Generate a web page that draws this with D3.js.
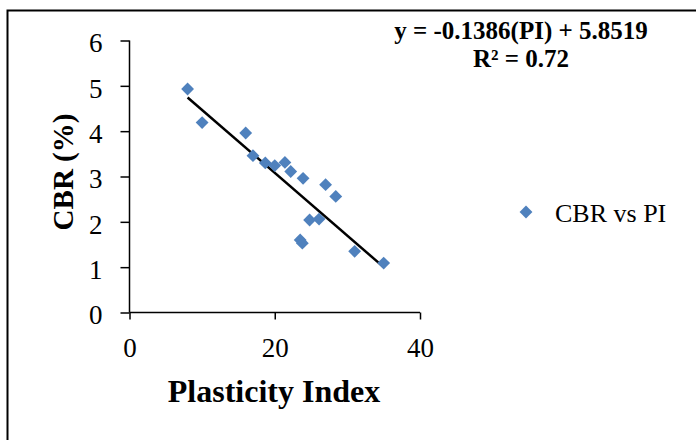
<!DOCTYPE html>
<html>
<head>
<meta charset="utf-8">
<script src="https://cdn.jsdelivr.net/npm/d3@7"></script>
<style>
  body { margin: 0; background: #fff; }
  svg { display: block; font-family: "Liberation Serif", "Times New Roman", serif; }
</style>
</head>
<body>
<div id="chart"></div>
<script>
// data
var pi  = [8, 10, 16, 17, 18.7, 20, 21.4, 22.2, 23.9, 27, 28.4, 24.8, 26.1, 23.5, 23.8, 31, 35];
var cbr = [4.93, 4.19, 3.96, 3.46, 3.30, 3.24, 3.31, 3.11, 2.96, 2.82, 2.56, 2.04, 2.06, 1.60, 1.53, 1.35, 1.09];
var xTicks = [0, 20, 40];
var yTicks = [0, 1, 2, 3, 4, 5, 6];
var slope = -0.1386, intercept = 5.8519;
var trendX = [8, 35];

var width = 696, height = 440;
var svg = d3.select("#chart").append("svg")
	.attr("width", width)
	.attr("height", height);

// outer frame (runs off right and bottom edges)
svg.append("rect")
	.attr("x", 7.5).attr("y", 10.5)
	.attr("width", 700).attr("height", 440)
	.attr("fill", "none")
	.attr("stroke", "#000")
	.attr("stroke-width", 2);

var x = d3.scaleLinear().domain([0, 40]).range([129.5, 420]);
var y = d3.scaleLinear().domain([0, 6]).range([312.5, 40.5]);

var xAxis = svg.append("g")
	.attr("transform", "translate(0," + y(0) + ")")
	.call(d3.axisBottom(x).tickValues(xTicks).tickFormat(d3.format("d")).tickSize(7).tickPadding(18));
var yAxis = svg.append("g")
	.attr("transform", "translate(" + x(0) + ",0)")
	.call(d3.axisLeft(y).tickValues(yTicks).tickFormat(d3.format("d")).tickSize(9).tickPadding(18));

[xAxis, yAxis].forEach(function(a) {
	a.select(".domain").attr("stroke", "#000").attr("stroke-width", 1.5);
	a.selectAll(".tick line").attr("stroke", "#000").attr("stroke-width", 1.5);
	a.selectAll(".tick text")
		.attr("fill", "#000")
		.style("font-family", "Liberation Serif")
		.style("font-size", "27px");
});
yAxis.selectAll(".tick text").attr("dy", "0.42em");
// no end caps on the domain lines
xAxis.select(".domain").attr("d", "M" + x(0) + ",0H" + x(40));
yAxis.select(".domain").attr("d", "M0," + y(0) + "V" + y(6));

// axis titles
svg.append("text")
	.attr("x", 274).attr("y", 402)
	.attr("text-anchor", "middle")
	.style("font-size", "32px").style("font-weight", "bold")
	.text("Plasticity Index");

svg.append("text")
	.attr("transform", "translate(73,172) rotate(-90)")
	.attr("text-anchor", "middle")
	.style("font-size", "29px").style("font-weight", "bold")
	.text("CBR (%)");

// trend line
svg.append("line")
	.attr("x1", x(trendX[0])).attr("y1", y(slope * trendX[0] + intercept))
	.attr("x2", x(trendX[1])).attr("y2", y(slope * trendX[1] + intercept))
	.attr("stroke", "#000").attr("stroke-width", 2.5);

// points
var diamond = d3.symbol().type(d3.symbolDiamond2).size(105);
svg.selectAll(".pt")
	.data(pi)
	.enter()
	.append("path")
	.attr("class", "pt")
	.attr("d", diamond)
	.attr("fill", "#4F81BD")
	.attr("transform", function(d, i) { return "translate(" + x(d) + "," + y(cbr[i]) + ")"; });

// equation
svg.append("text")
	.attr("x", 521).attr("y", 39)
	.attr("text-anchor", "middle")
	.style("font-size", "25px").style("font-weight", "bold")
	.text("y = -0.1386(PI) + 5.8519");
svg.append("text")
	.attr("x", 521).attr("y", 67)
	.attr("text-anchor", "middle")
	.style("font-size", "25px").style("font-weight", "bold")
	.text("R² = 0.72");

// legend
svg.append("path")
	.attr("d", diamond)
	.attr("fill", "#4F81BD")
	.attr("transform", "translate(526,212)");
svg.append("text")
	.attr("x", 555).attr("y", 222)
	.style("font-size", "26px")
	.text("CBR vs PI");
</script>
</body>
</html>
